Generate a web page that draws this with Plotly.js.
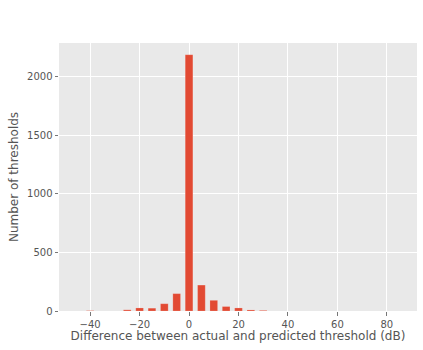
<!DOCTYPE html>
<html>
<head>
<meta charset="utf-8">
<script src="https://cdn.plot.ly/plotly-3.0.1.min.js"></script>
<style>html,body{margin:0;padding:0;background:#fff;}#chart{width:423px;height:350px;}</style>
</head>
<body>
<div id="chart"></div>
<script>
const binCenters = [-40, -25, -20, -15, -10, -5, 0, 5, 10, 15, 20, 25, 30];
const counts = [3, 10, 26, 24, 62, 148, 2185, 221, 91, 38, 26, 9, 5];
const xTickVals = [-40, -20, 0, 20, 40, 60, 80];
const xTickText = ['\u221240', '\u221220', '0', '20', '40', '60', '80'];
const yTickVals = [0, 500, 1000, 1500, 2000];

Plotly.newPlot('chart', [{
  type: 'bar',
  x: binCenters,
  y: counts,
  width: 3.1,
  marker: {color: '#E24A33', line: {color: 'rgba(255,255,255,0.35)', width: 0.5}},
  hoverinfo: 'x+y'
}], {
  width: 423, height: 350,
  margin: {l: 59, r: 6, t: 43, b: 39},
  paper_bgcolor: '#ffffff',
  plot_bgcolor: '#E9E9E9',
  font: {family: 'DejaVu Sans', color: '#555555', size: 10},
  showlegend: false,
  xaxis: {
    range: [-52.6, 92.2],
    tickvals: xTickVals, ticktext: xTickText,
    showgrid: true, gridcolor: '#ffffff', gridwidth: 1,
    zeroline: false, showline: false,
    ticks: 'outside', ticklen: 3.5, tickcolor: '#555555', tickwidth: 0.8,
    tickfont: {size: 10, color: '#555555'},
    title: {text: 'Difference between actual and predicted threshold (dB)', font: {size: 12, color: '#555555'}, standoff: 3}
  },
  yaxis: {
    range: [0, 2285],
    tickvals: yTickVals,
    showgrid: true, gridcolor: '#ffffff', gridwidth: 1,
    zeroline: false, showline: false,
    ticks: 'outside', ticklen: 3.5, tickcolor: '#555555', tickwidth: 0.8,
    tickfont: {size: 10, color: '#555555'},
    title: {text: 'Number of thresholds', font: {size: 12, color: '#555555'}, standoff: 5}
  }
}, {staticPlot: true});
</script>
</body>
</html>
